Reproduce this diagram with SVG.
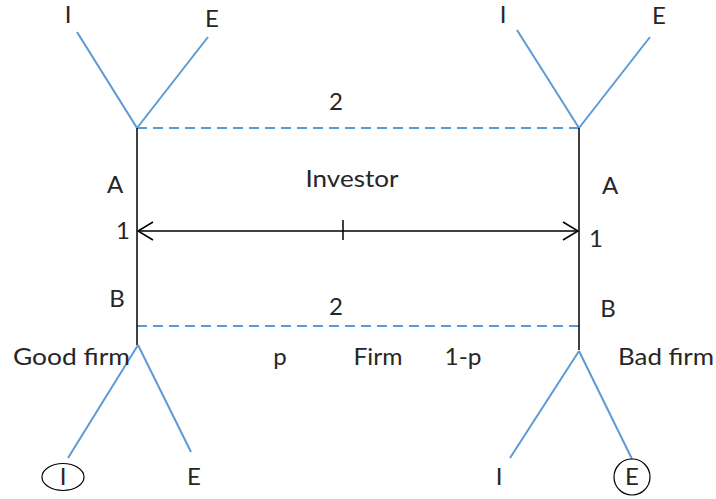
<svg xmlns="http://www.w3.org/2000/svg" width="716" height="499" viewBox="0 0 716 499">
<style>
text{font-family:Lato,"Open Sans","Liberation Sans",sans-serif;font-size:24px;fill:#262626}
.c{text-anchor:middle}
.b{stroke:#5B9BD5;stroke-width:2;fill:none}
.d{stroke:#5B9BD5;stroke-width:2;fill:none;stroke-dasharray:10 6}
.k{stroke:#000;stroke-width:1.5;fill:none}
</style>
<defs>
<marker id="ah" markerWidth="20" markerHeight="20" refX="16" refY="10" orient="auto-start-reverse" markerUnits="userSpaceOnUse">
<path d="M1,1 L16,10 L1,19" fill="none" stroke="#000" stroke-width="1.5"/>
</marker>
</defs>
<rect width="716" height="499" fill="#fff"/>
<g id="connectors">
<line class="b" x1="77" y1="32" x2="137" y2="128"/>
<line class="b" x1="208" y1="37" x2="137" y2="128"/>
<line class="b" x1="517" y1="30" x2="579" y2="128"/>
<line class="b" x1="650" y1="37" x2="579" y2="128"/>
<line class="d" x1="137" y1="128" x2="579" y2="128"/>
<line class="d" x1="137" y1="326" x2="579" y2="326"/>
<line class="k" x1="137" y1="128" x2="137" y2="345"/>
<line class="k" x1="579" y1="128" x2="579" y2="350"/>
<line class="k" x1="138" y1="231" x2="578" y2="231" marker-start="url(#ah)" marker-end="url(#ah)"/>
<line class="k" x1="343" y1="220" x2="343" y2="240"/>
<line class="b" x1="138" y1="345" x2="68" y2="458"/>
<line class="b" x1="138" y1="345" x2="191" y2="452"/>
<line class="b" x1="579" y1="351" x2="510" y2="458"/>
<line class="b" x1="579" y1="351" x2="632" y2="459"/>
</g>
<g id="top-left">
<text class="c" x="68" y="23">I</text>
<text class="c" x="212" y="27">E</text>
</g>
<g id="top-right">
<text class="c" x="503" y="23">I</text>
<text class="c" x="659" y="24">E</text>
</g>
<g id="investor">
<text class="c" x="336" y="110">2</text>
<text class="c" x="352" y="187" textLength="93" lengthAdjust="spacingAndGlyphs">Investor</text>
<text class="c" x="336" y="315">2</text>
</g>
<g id="left-labels">
<text class="c" x="115" y="193">A</text>
<text class="c" x="123" y="239">1</text>
<text class="c" x="117" y="307">B</text>
</g>
<g id="right-labels">
<text class="c" x="610" y="194">A</text>
<text class="c" x="596" y="247">1</text>
<text class="c" x="608" y="317">B</text>
</g>
<g id="firm">
<text x="13" y="365" textLength="117" lengthAdjust="spacingAndGlyphs">Good firm</text>
<text class="c" x="280" y="365">p</text>
<text class="c" x="378" y="365" textLength="49" lengthAdjust="spacingAndGlyphs">Firm</text>
<text class="c" x="463" y="365" textLength="37" lengthAdjust="spacingAndGlyphs">1-p</text>
<text x="618" y="365" textLength="96" lengthAdjust="spacingAndGlyphs">Bad firm</text>
</g>
<g id="bottom-left">
<ellipse cx="63" cy="477" rx="21" ry="13.5" fill="none" stroke="#000" stroke-width="1.2"/>
<text class="c" x="63" y="485">I</text>
<text class="c" x="194" y="485">E</text>
</g>
<g id="bottom-right">
<text class="c" x="499" y="485">I</text>
<circle cx="632" cy="477" r="18" fill="none" stroke="#000" stroke-width="1.2"/>
<text class="c" x="632" y="485">E</text>
</g>
</svg>
